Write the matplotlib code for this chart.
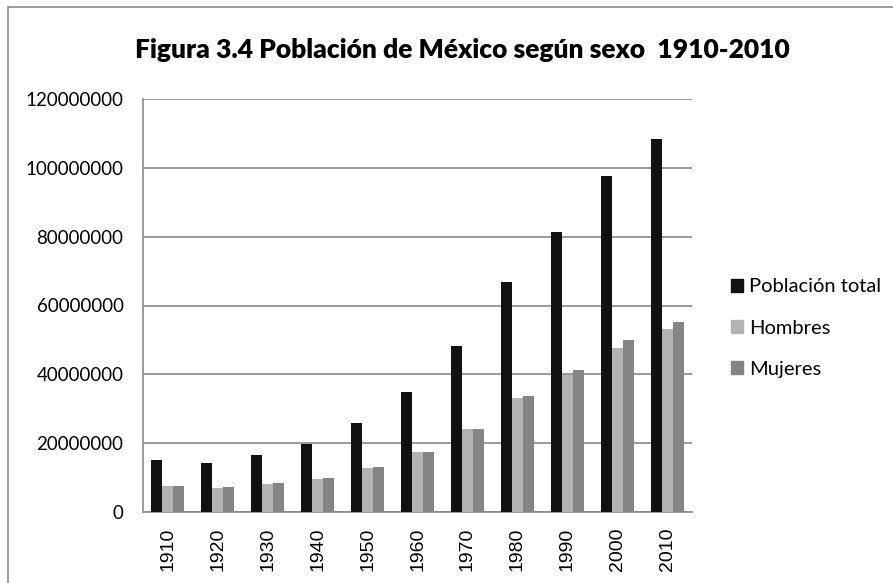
import matplotlib
matplotlib.use("Agg")
import matplotlib.pyplot as plt
import matplotlib.patches as patches
import numpy as np

# --- DATA ---
years = ["1910", "1920", "1930", "1940", "1950", "1960", "1970", "1980", "1990", "2000", "2010"]
total = [15160369, 14334780, 16552722, 19653552, 25791017, 34923129, 48225238, 66846833, 81249645, 97483412, 108396211]
hombres = [7504471, 6991013, 8119004, 9696787, 12696935, 17415320, 24065614, 33039307, 39893969, 47592253, 53229849]
mujeres = [7655898, 7343767, 8433718, 9956765, 13094082, 17507809, 24159624, 33807526, 41355676, 49891159, 55166362]
series_names = ["Población total", "Hombres", "Mujeres"]
y_ticks = [0, 20000000, 40000000, 60000000, 80000000, 100000000, 120000000]

colors = ["#111111", "#b3b3b3", "#858585"]
grid_c = "#8a8a8a"

W, H = 893, 583
fig = plt.figure(figsize=(W / 100, H / 100), dpi=100)
fig.patch.set_facecolor("white")

# borde del area del grafico (solo se ven izquierda y arriba)
fig.patches.append(patches.Rectangle((8 / W, -0.05), 1.2, 1.05 - 7 / H, transform=fig.transFigure,
                                     facecolor="none", edgecolor="#8a8a8a", linewidth=1.2))

ax = fig.add_axes([143 / W, 1 - 512 / H, (692 - 143) / W, (512 - 99) / H])

x = np.arange(len(years))
w = 0.22
for i, (vals, name) in enumerate(zip([total, hombres, mujeres], series_names)):
    ax.bar(x + (i - 1) * w, vals, width=w, color=colors[i], label=name, zorder=3)

ax.set_xlim(-0.5, len(years) - 0.5)
ax.set_ylim(0, 120000000)
ax.set_yticks(y_ticks)
ax.set_yticklabels([str(v) for v in y_ticks], fontfamily="Lato", fontsize=13.5)
ax.set_xticks(x)
ax.set_xticklabels(years, rotation=90, fontfamily="Liberation Sans", fontsize=14)
ax.tick_params(axis="y", length=0, pad=14)
ax.tick_params(axis="x", length=0, pad=11)

ax.yaxis.grid(True, color=grid_c, linewidth=1.2, zorder=0)
ax.set_axisbelow(True)
for s in ["top", "right"]:
    ax.spines[s].set_visible(False)
for s in ["left", "bottom"]:
    ax.spines[s].set_color(grid_c)
    ax.spines[s].set_linewidth(1.2)

fig.text(462 / W, 1 - 50 / H, "Figura 3.4 Población de México según sexo  1910-2010",
         ha="center", va="center", fontfamily="Lato", fontweight="heavy", fontsize=19)

handles = [patches.Rectangle((0, 0), 1, 1, color=c) for c in colors]
fig.legend(handles, series_names, loc="center left", bbox_to_anchor=(713 / W, 1 - 328 / H),
           frameon=False, prop={"family": "Lato", "size": 14.5}, handlelength=0.6, handleheight=0.6,
           handletextpad=0.3, labelspacing=1.2)

fig.savefig("out.png", dpi=100)
